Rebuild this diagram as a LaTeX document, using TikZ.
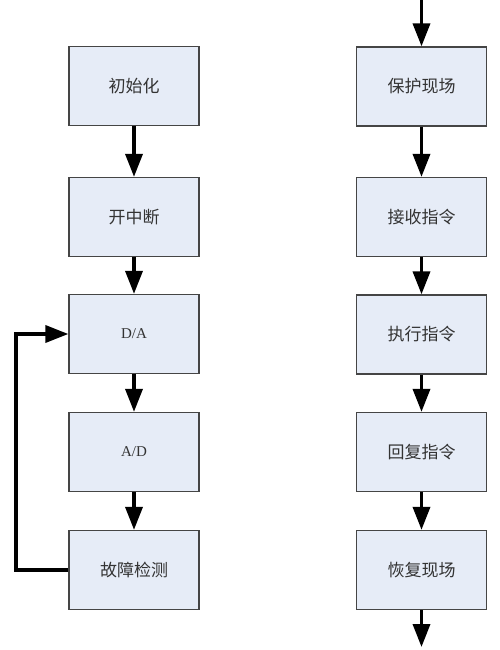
\documentclass[tikz,border=0pt]{standalone}
\usepackage{fontspec}
\setmainfont{Liberation Serif}
\newfontfamily\cjk{Noto Sans CJK SC}
\usetikzlibrary{arrows.meta}
\definecolor{boxfill}{HTML}{E6ECF7}
\definecolor{boxline}{HTML}{454545}
\definecolor{txt}{HTML}{333333}
\tikzset{
  box/.style={draw=boxline, fill=boxfill, line width=1.3pt, minimum width=130pt, minimum height=79pt, inner sep=0pt, text=txt, font=\cjk\fontsize{17pt}{17pt}\selectfont},
  latinbox/.style={box, font=\fontsize{15pt}{15pt}\selectfont},
  flow/.style={line width=3.5pt, -{Triangle[length=23pt,width=17pt]}},
}
\begin{document}
\begin{tikzpicture}[x=1pt,y=-1pt]
\useasboundingbox (0,0) rectangle (500,650);
\node[box] (init) at (134,86) {初始化};
\node[box] (kzd) at (134,217) {开中断};
\node[latinbox] (da) at (134,334) {D/A};
\node[latinbox] (ad) at (134,452) {A/D};
\node[box] (gz) at (134,570) {故障检测};
\node[box] (bh) at (421.5,86.5) {保护现场};
\node[box] (js) at (421.5,217) {接收指令};
\node[box] (zx) at (421.5,334.5) {执行指令};
\node[box] (hf) at (421.5,452) {回复指令};
\node[box] (hy) at (421.5,570) {恢复现场};
\coordinate (in) at (421.5,0);
\coordinate (out) at (421.5,647);
\draw[flow] (init) -- (kzd);
\draw[flow] (kzd) -- (da);
\draw[flow] (da) -- (ad);
\draw[flow] (ad) -- (gz);
\draw[flow] (gz.west) -- (16,570) -- (16,334) -- (da.west);
\draw[flow] (in) -- (bh);
\draw[flow] (bh) -- (js);
\draw[flow] (js) -- (zx);
\draw[flow] (zx) -- (hf);
\draw[flow] (hf) -- (hy);
\draw[flow] (hy) -- (out);
\end{tikzpicture}
\end{document}
